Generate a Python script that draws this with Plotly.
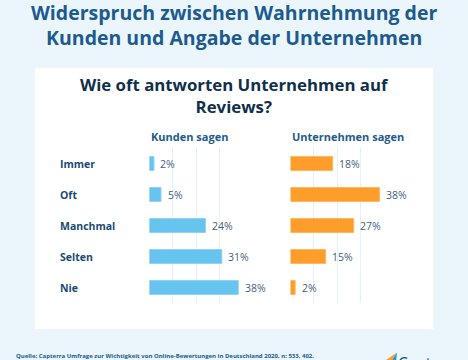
import plotly.graph_objects as go

categories = ["Immer", "Oft", "Manchmal", "Selten", "Nie"]
kunden = [2, 5, 24, 31, 38]
unternehmen = [18, 38, 27, 15, 2]

title_lines = ["Widerspruch zwischen Wahrnehmung der", "Kunden und Angabe der Unternehmen"]
subtitle_lines = ["Wie oft antworten Unternehmen auf", "Reviews?"]
panel_titles = ["Kunden sagen", "Unternehmen sagen"]
source = "Quelle: Capterra Umfrage zur Wichtigkeit von Online-Bewertungen in Deutschland 2020, n: 533, 402."

W, H = 468, 360
FONT = "Open Sans"
BLUE = "#66c4ee"
ORANGE = "#ff9d2a"
NAVY = "#1d5a8e"
DARK = "#0f2f4b"
LABEL = "#3f5f80"
GRID = "#e2f1fa"

def px(y):
    return 1 - y / H

fig = go.Figure()
fig.add_trace(go.Bar(
    x=kunden, y=categories, orientation="h", xaxis="x", yaxis="y",
    marker=dict(color=BLUE, line=dict(color="#8fd3f3", width=1)),
    hoverinfo="skip", showlegend=False,
))
fig.add_trace(go.Bar(
    x=unternehmen, y=categories, orientation="h", xaxis="x2", yaxis="y2",
    marker=dict(color=ORANGE, line=dict(color="#ffb75f", width=1)),
    hoverinfo="skip", showlegend=False,
))

xax = dict(range=[0, 39], dtick=10, showgrid=True, gridcolor=GRID, gridwidth=1,
           zeroline=False, showline=False, showticklabels=False, ticks="", fixedrange=True)
yax = dict(domain=[px(303), px(148)], autorange="reversed", showgrid=False,
           zeroline=False, showline=False, showticklabels=False, ticks="", fixedrange=True)

annotations = []
annotations.append(dict(text="<b>%s</b>" % "<br>".join(title_lines), x=0.5, y=px(24.75),
                        xref="paper", yref="paper", xanchor="center", yanchor="middle",
                        showarrow=False, align="center",
                        font=dict(family=FONT, size=19.5, color=NAVY)))
annotations.append(dict(text="<b>%s</b>" % "<br>".join(subtitle_lines), x=0.5, y=px(95.75),
                        xref="paper", yref="paper", xanchor="center", yanchor="middle",
                        showarrow=False, align="center",
                        font=dict(family=FONT, size=16.8, color=DARK)))
for t, xx in zip(panel_titles, [148.5, 289.5]):
    annotations.append(dict(text="<b>%s</b>" % t, x=xx / W, y=px(136), xref="paper", yref="paper",
                            xanchor="left", yanchor="middle", showarrow=False,
                            font=dict(family=FONT, size=11, color=NAVY)))
for c in categories:
    annotations.append(dict(text="<b>%s</b>" % c, x=57.5 / W, y=c, xref="paper", yref="y",
                            xanchor="left", yanchor="middle", showarrow=False,
                            font=dict(family=FONT, size=10.5, color="#1a4a74")))
for vals, xr, yr in [(kunden, "x", "y"), (unternehmen, "x2", "y2")]:
    for c, v in zip(categories, vals):
        annotations.append(dict(text="%d%%" % v, x=v, y=c, xref=xr, yref=yr,
                                xanchor="left", yanchor="middle", showarrow=False, xshift=4.5,
                                font=dict(family=FONT, size=10.5, color=LABEL)))
annotations.append(dict(text="<b>%s</b>" % source, x=13.5 / W, y=px(355.5), xref="paper", yref="paper",
                        xanchor="left", yanchor="middle", showarrow=False,
                        font=dict(family=FONT, size=6.0, color=NAVY)))
annotations.append(dict(text="Capterra", x=396 / W, y=px(349.5), xref="paper", yref="paper",
                        xanchor="left", yanchor="top", showarrow=False,
                        font=dict(family=FONT, size=15.5, color="#044d80")))

shapes = [
    dict(type="rect", xref="paper", yref="paper", x0=35 / W, x1=433 / W, y0=px(329), y1=px(68),
         fillcolor="white", line=dict(width=0), layer="below"),
    dict(type="path", xref="paper", yref="paper",
         path="M %f %f L %f %f L %f %f Z" % (383 / W, px(362), 397 / W, px(352.5), 391 / W, px(362)),
         fillcolor="#ff9d2a", line=dict(width=0)),
    dict(type="path", xref="paper", yref="paper",
         path="M %f %f L %f %f L %f %f Z" % (391 / W, px(362), 397 / W, px(352.5), 396 / W, px(362)),
         fillcolor="#1b9ad6", line=dict(width=0)),
]

fig.update_layout(
    width=W, height=H, margin=dict(l=0, r=0, t=0, b=0),
    paper_bgcolor="#eaf6fc", plot_bgcolor="rgba(0,0,0,0)",
    bargap=0.55,
    xaxis=dict(xax, domain=[149.3 / W, 240.6 / W], anchor="y"),
    xaxis2=dict(xax, domain=[290.5 / W, 381.8 / W], anchor="y2"),
    yaxis=dict(yax, anchor="x"),
    yaxis2=dict(yax, anchor="x2", matches="y"),
    annotations=annotations, shapes=shapes,
    font=dict(family=FONT),
)

fig.write_html("out.html", config={"displayModeBar": False},
               post_script="document.body.style.margin='0';document.body.style.overflow='hidden';")
